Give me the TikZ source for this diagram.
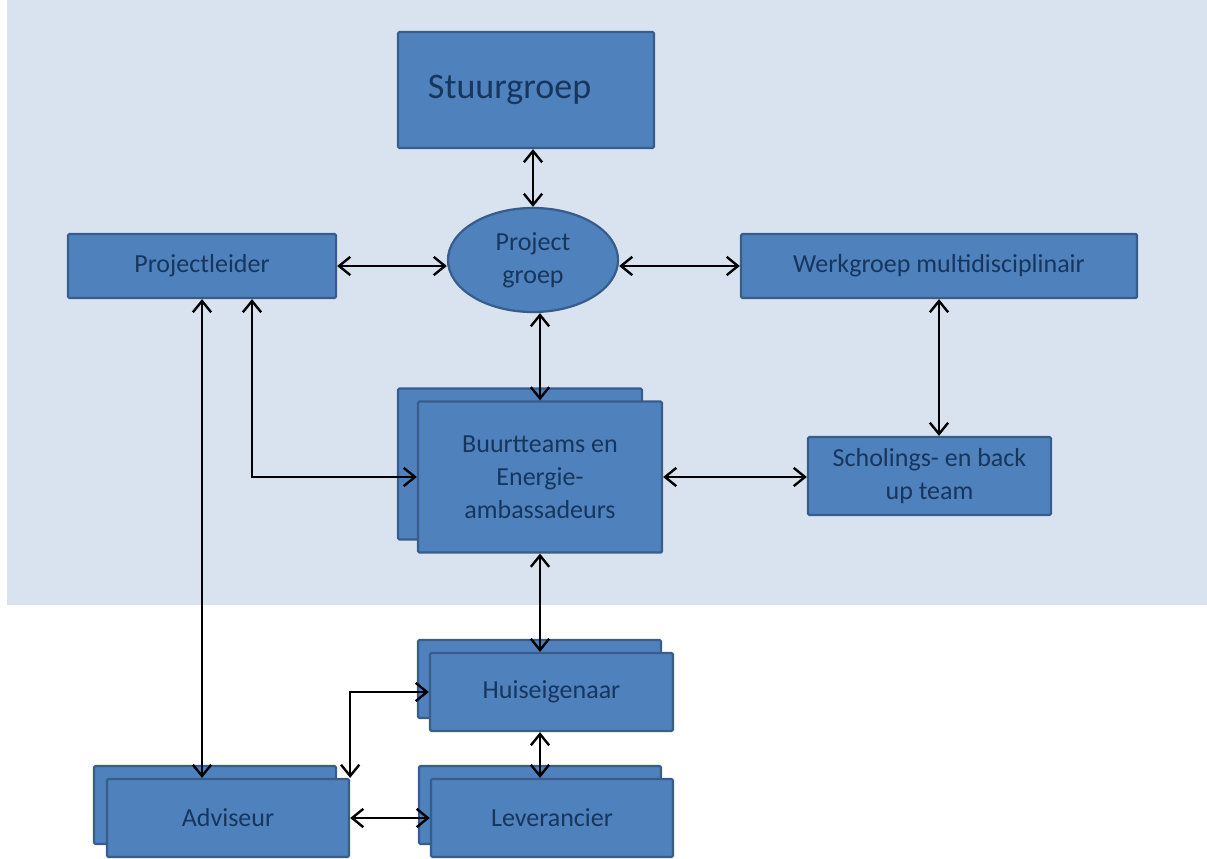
\documentclass[tikz,border=0pt]{standalone}
\usepackage{fontspec}
\setmainfont{Carlito}
\usepackage{tikz}
\usetikzlibrary{shapes.geometric,shadows,arrows.meta,calc}
\definecolor{achter}{RGB}{217,227,240}
\definecolor{vulblauw}{RGB}{79,129,189}
\definecolor{randblauw}{RGB}{56,93,138}
\definecolor{tekstblauw}{RGB}{23,54,93}

\begin{document}
\begin{tikzpicture}[x=0.025cm,y=-0.025cm,
    >={Straight Barb[length=8pt,width=13pt]},
    blok/.style={draw=randblauw,fill=vulblauw,line width=1.6pt,rounded corners=1pt,
                 text=tekstblauw,font=\fontsize{18.5}{23.5}\selectfont,align=center,inner sep=2pt},
    stapel/.style={copy shadow={shadow xshift=#1,shadow yshift=0.325cm}},
    stapel/.default=-0.3cm,
    pijl/.style={<->,line width=1.7pt,black}]
    \useasboundingbox (0,0) rectangle (1207,859);
    \fill [achter] (7,0) rectangle (1207,605);
    % \draw [help lines] (0,0) grid[step=100] (1207,859);

    \node [blok,minimum width=6.4cm,minimum height=2.9cm,text width=4.9cm,inner xsep=0.75cm,
           align=left,font=\fontsize{25.6}{30}\selectfont] (stuur) at (526,90) {Stuurgroep};
    \node [blok,ellipse,inner sep=0pt,minimum width=4.25cm,minimum height=2.6cm]
          (pgroep) at (533,260) {Project\\groep};
    \node [blok,minimum width=6.7cm,minimum height=1.6cm] (projl) at (202,266) {Projectleider};
    \node [blok,minimum width=9.9cm,minimum height=1.6cm] (werk) at (939,266) {Werkgroep multidisciplinair};
    \node [blok,stapel=-0.5cm,minimum width=6.1cm,minimum height=3.775cm]
          (buurt) at (540,477) {Buurtteams en\\Energie-\\ambassadeurs};
    \node [blok,minimum width=6.075cm,minimum height=1.95cm] (schol) at (929.5,476) {Scholings- en back\\up team};
    \node [blok,stapel,minimum width=6.075cm,minimum height=1.95cm] (huis) at (551.5,692) {Huiseigenaar};
    \node [blok,stapel=-0.325cm,minimum width=6.05cm,minimum height=1.95cm] (advis) at (228,818) {Adviseur};
    \node [blok,stapel,minimum width=6.05cm,minimum height=1.95cm] (lever) at (552,818) {Leverancier};

    \draw [pijl] (pgroep.north |- stuur.south) -- (pgroep.north);
    \draw [pijl] (projl.east) -- (projl.east -| pgroep.west);
    \draw [pijl] (pgroep.east |- werk.west) -- (werk.west);
    \draw [pijl] (buurt.north |- pgroep.south) -- (buurt.north);
    \draw [pijl] (werk.south) -- (werk.south |- schol.north);
    \draw [pijl] (buurt.east) -- (buurt.east -| schol.west);
    \draw [pijl] ($(projl.south)+(50,0)$) |- (buurt.west);
    \draw [pijl] (projl.south) -- (projl.south |- advis.north);
    \draw [pijl] (buurt.south) -- (buurt.south |- huis.north);
    \draw [pijl] (buurt.south |- huis.south) -- (buurt.south |- lever.north);
    \draw [pijl] (huis.west) -| (advis.north east);
    \draw [pijl] (advis.east) -- (lever.west);
\end{tikzpicture}
\end{document}
